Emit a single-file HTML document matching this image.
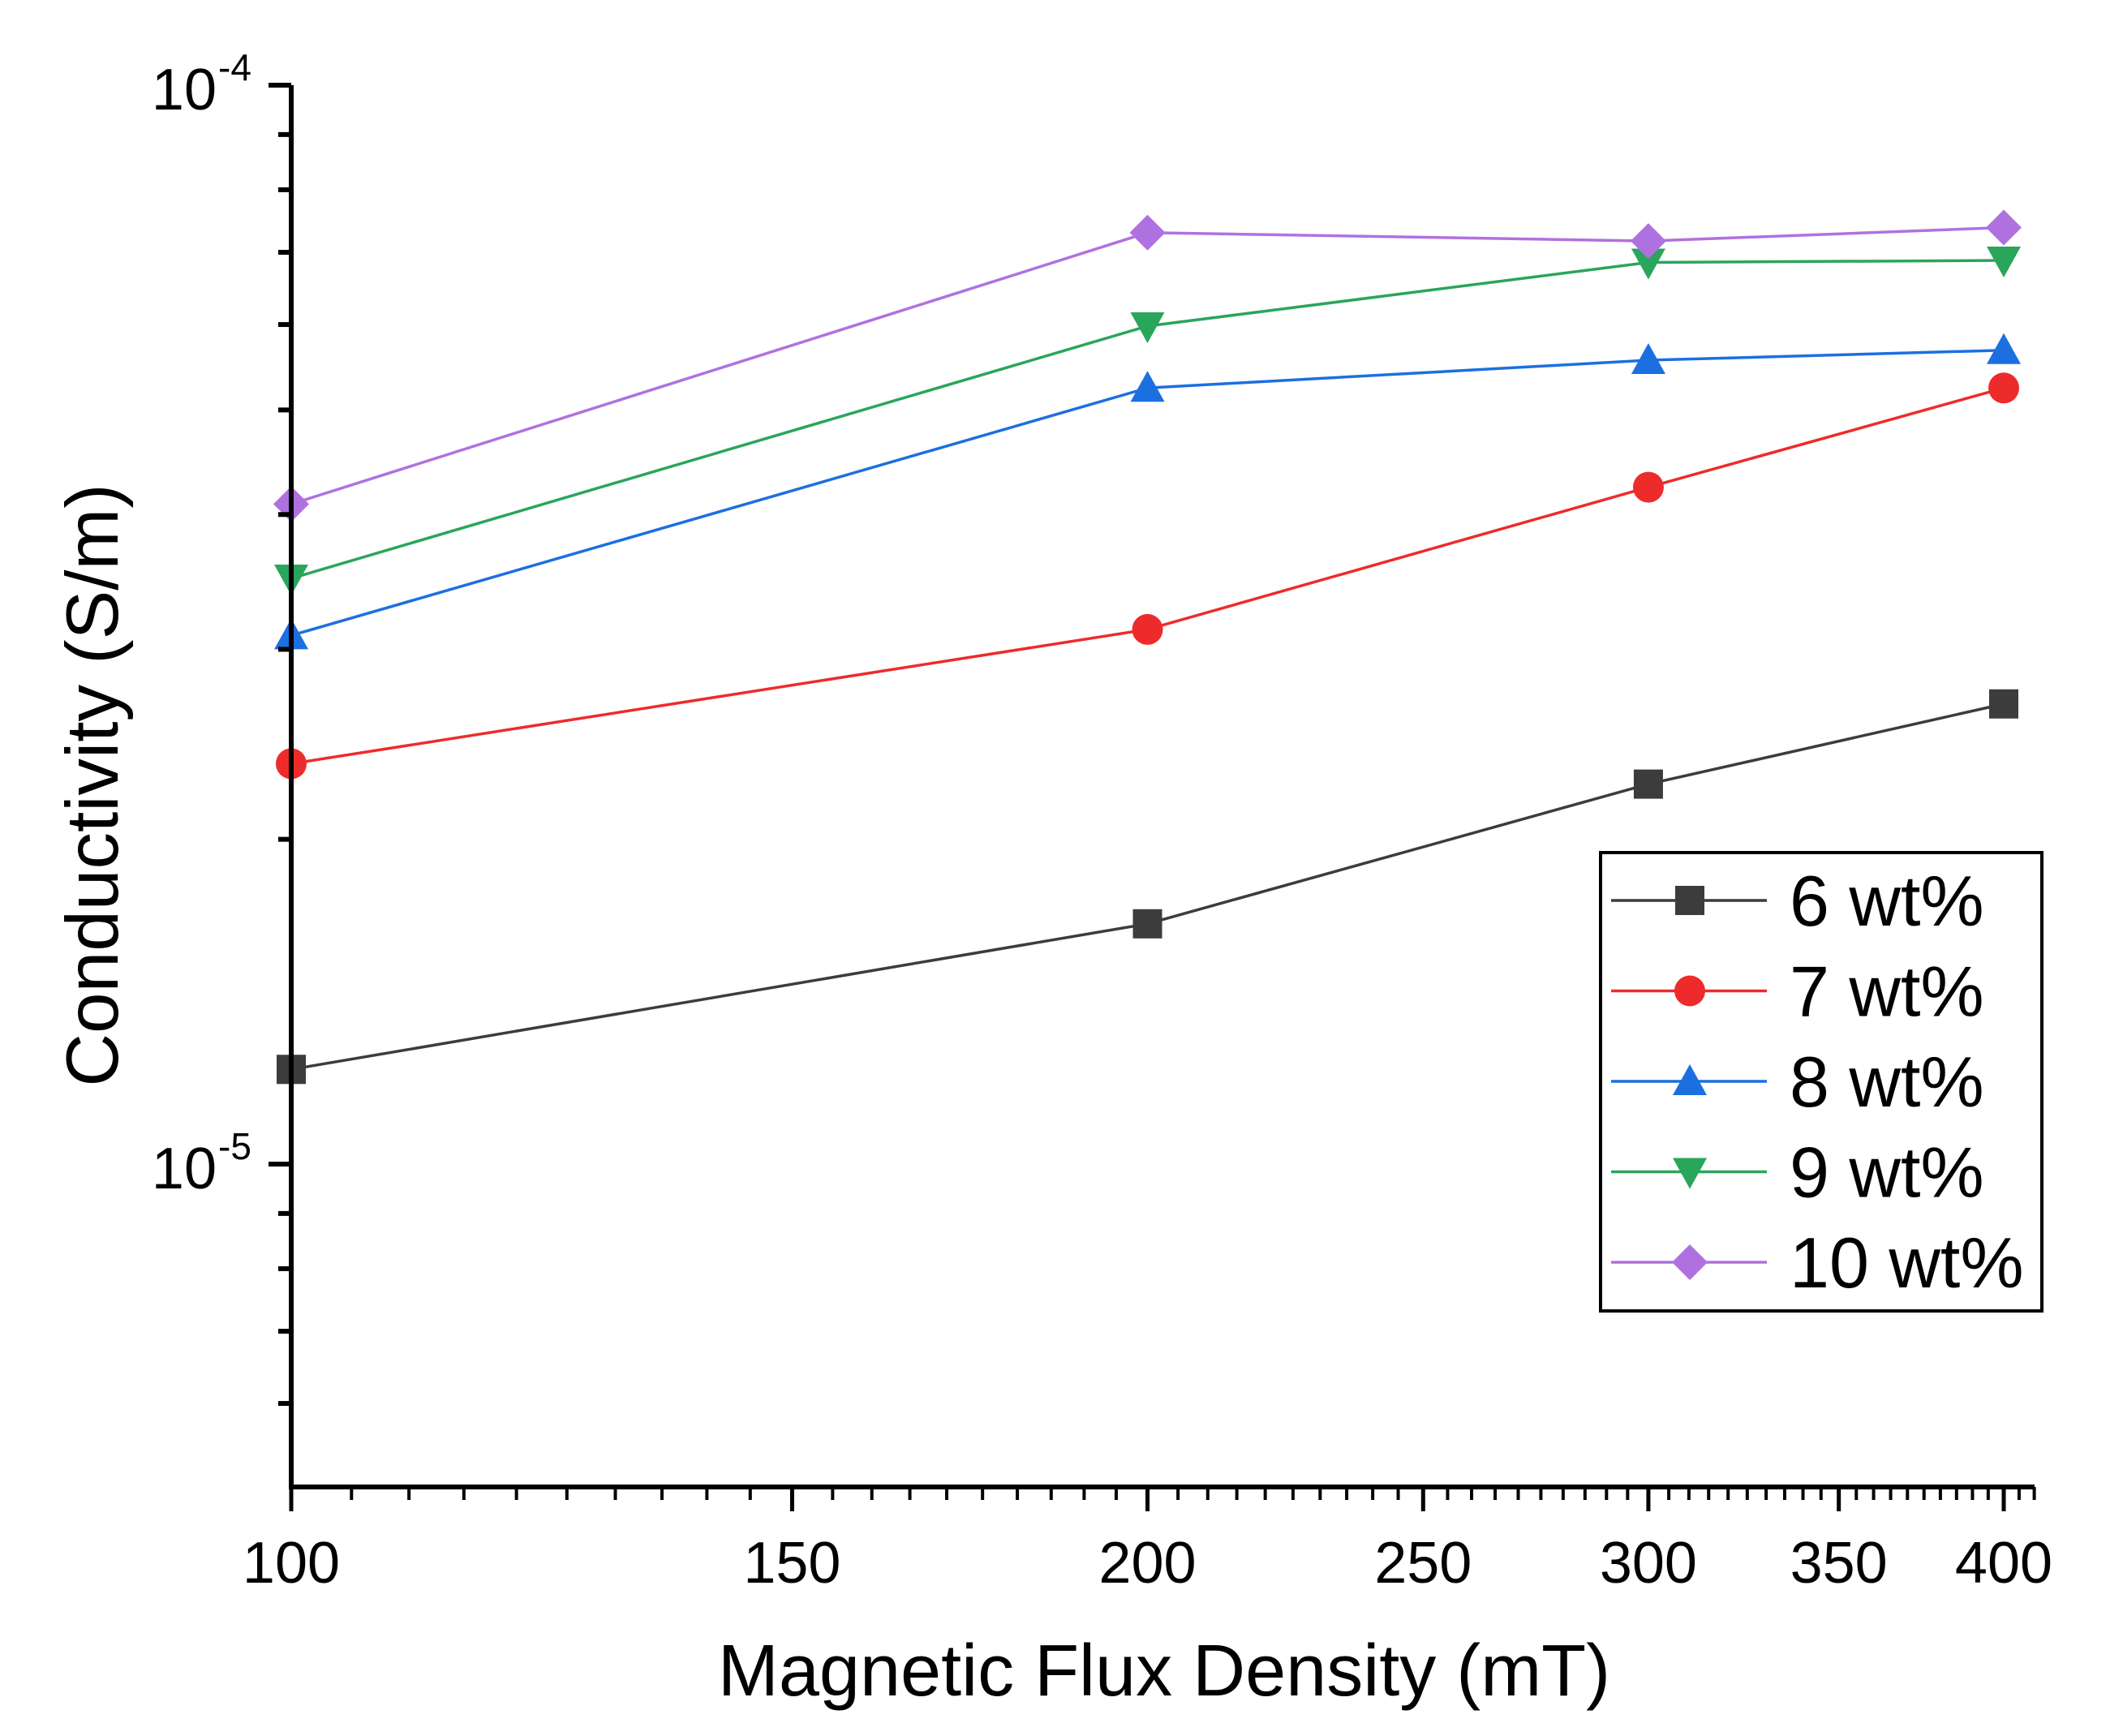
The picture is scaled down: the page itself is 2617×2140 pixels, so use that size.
<!DOCTYPE html>
<html><head><meta charset="utf-8"><style>
html,body{margin:0;padding:0;background:#fff;}
svg{display:block;font-family:"Liberation Sans",Arial,sans-serif;}
</style></head><body>
<svg id="chart" width="2617" height="2140" viewBox="0 0 2617 2140" xmlns="http://www.w3.org/2000/svg">
<rect width="2617" height="2140" fill="#fff"/>
<g id="plot"></g>
<g id="axes"></g>
<text x="1435" y="2090" font-size="90" text-anchor="middle" fill="#000">Magnetic Flux Density (mT)</text>
<text transform="translate(145,968) rotate(-90)" font-size="91" text-anchor="middle" fill="#000">Conductivity (S/m)</text>
<g id="legend"></g>
</svg>
<script>
const xValues = [100, 200, 300, 400];
const seriesNames = ["6 wt%", "7 wt%", "8 wt%", "9 wt%", "10 wt%"];
const s6 = [1.224e-5, 1.67e-5, 2.25e-5, 2.67e-5];
const s7 = [2.35e-5, 3.13e-5, 4.24e-5, 5.24e-5];
const s8 = [3.09e-5, 5.24e-5, 5.56e-5, 5.68e-5];
const s9 = [3.49e-5, 5.98e-5, 6.85e-5, 6.88e-5];
const s10 = [4.09e-5, 7.3e-5, 7.17e-5, 7.38e-5];
const xMajorTicks = [100, 150, 200, 250, 300, 350, 400];
const xTickLabels = ["100", "150", "200", "250", "300", "350", "400"];

const NS = "http://www.w3.org/2000/svg";
const X0 = 359, X400 = 2470, XEND = 2508;
const YTOP = 105, YDEC = 1330, YBOT = 1833;
function sx(v){ return X0 + Math.log10(v/100)/Math.log10(4)*(X400-X0); }
function sy(v){ return YTOP + (-4 - Math.log10(v))*YDEC; }
function mk(tag, attrs, parent){
  const e = document.createElementNS(NS, tag);
  for (const k in attrs) e.setAttribute(k, attrs[k]);
  parent.appendChild(e); return e;
}
const plot = document.getElementById('plot');
const axes = document.getElementById('axes');
const legend = document.getElementById('legend');

let el = mk('line', {x1:X0, y1:YTOP, x2:X0, y2:YBOT, stroke:'#000', 'stroke-width':6}, axes);


el = mk('line', {x1:X0-3, y1:YBOT, x2:XEND, y2:YBOT, stroke:'#000', 'stroke-width':6}, axes);



const yMajor = [1e-4, 1e-5];
const yMinor = [6e-6,7e-6,8e-6,9e-6,2e-5,3e-5,4e-5,5e-5,6e-5,7e-5,8e-5,9e-5];
yMajor.forEach(v=>{
  const t = mk('line', {x1:X0-28, y1:sy(v), x2:X0, y2:sy(v), stroke:'#000', 'stroke-width':6}, axes);
  
  
  const lab = mk('text', {x:X0-92, y:sy(v)+30, 'font-size':72, 'text-anchor':'end', fill:'#000'}, axes);
  
  
  lab.textContent = '10';
  const sup = mk('tspan', {x:X0-90, dy:-36, 'font-size':46, 'text-anchor':'start'}, lab);
  sup.textContent = v === 1e-4 ? '-4' : '-5';
});
yMinor.forEach(v=>{
  const t = mk('line', {x1:X0-16, y1:sy(v), x2:X0, y2:sy(v), stroke:'#000', 'stroke-width':6}, axes);
  
  
});
for (let v = 105; v <= 410; v += 5) {
  if (xMajorTicks.includes(v)) continue;
  const t = mk('line', {x1:sx(v), y1:YBOT, x2:sx(v), y2:YBOT+16, stroke:'#000', 'stroke-width':4}, axes);
  
  
}
xMajorTicks.forEach((v,i)=>{
  const t = mk('line', {x1:sx(v), y1:YBOT, x2:sx(v), y2:YBOT+30, stroke:'#000', 'stroke-width':5}, axes);
  
  
  const lab = mk('text', {x:sx(v), y:YBOT+118, 'font-size':72, 'text-anchor':'middle', fill:'#000'}, axes);
  
  
  lab.textContent = xTickLabels[i];
});

const colors = ['#3c3c3c', '#ee2b2b', '#1c6fe0', '#2aa55c', '#b071e0'];
const shapes = ['square', 'circle', 'up', 'down', 'diamond'];
const allSeries = [s6, s7, s8, s9, s10];
function marker(shape, x, y, color, parent){
  const r = 19;
  let m;
  if (shape === 'square') m = mk('rect', {x:x-r+1, y:y-r+1, width:2*r-2, height:2*r-2, fill:color}, parent);
  else if (shape === 'circle') m = mk('circle', {cx:x, cy:y, r:r, fill:color}, parent);
  else if (shape === 'up') m = mk('polygon', {points:`${x},${y-r-2} ${x+r+2},${y+r-2} ${x-r-2},${y+r-2}`, fill:color}, parent);
  else if (shape === 'down') m = mk('polygon', {points:`${x},${y+r+2} ${x+r+2},${y-r+2} ${x-r-2},${y-r+2}`, fill:color}, parent);
  else m = mk('polygon', {points:`${x},${y-r-3} ${x+r+3},${y} ${x},${y+r+3} ${x-r-3},${y}`, fill:color}, parent);
  return m;
}
allSeries.forEach((vals, si)=>{
  const g = mk('g', {}, plot);
  
  
  const pts = vals.map((v,i)=> sx(xValues[i]) + ',' + sy(v)).join(' ');
  const pl = mk('polyline', {points:pts, fill:'none', stroke:colors[si], 'stroke-width':3.5}, g);
  
  
  vals.forEach((v,i)=>{
    const m = marker(shapes[si], sx(xValues[i]), sy(v), colors[si], g);
    
    
  });
});

const box = mk('rect', {x:1973, y:1051, width:544, height:565, fill:'#fff', stroke:'#000', 'stroke-width':4}, legend);


seriesNames.forEach((n, i)=>{
  const y = 1110 + i*111.5;
  const g = mk('g', {}, legend);
  
  
  mk('line', {x1:1986, y1:y, x2:2178, y2:y, stroke:colors[i], 'stroke-width':3.5}, g);
  marker(shapes[i], 2083, y, colors[i], g);
  const t = mk('text', {x:2206, y:y+31, 'font-size':88, fill:'#000'}, g);
  t.textContent = n;
});
</script>
</body></html>
